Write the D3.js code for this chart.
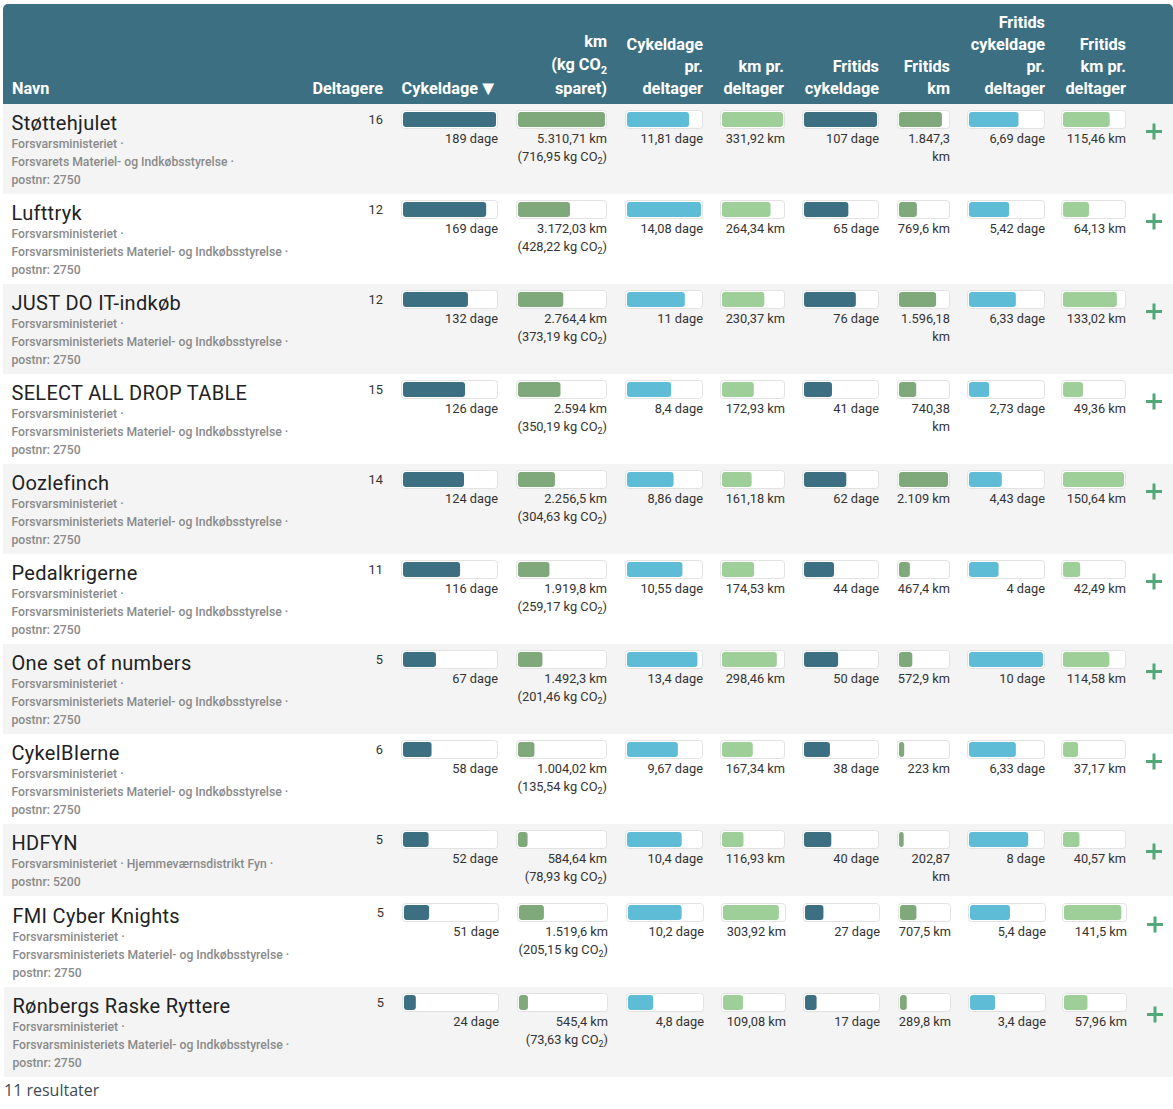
<!DOCTYPE html>
<html>
<head>
<meta charset="utf-8">
<script src="https://d3js.org/d3.v7.min.js"></script>
<style>
  html, body { margin: 0; background: #fff; }
  svg { display: block; font-family: Roboto, sans-serif; }
  .head { fill: #fff; font-weight: 700; font-size: 16.3px; text-anchor: end; }
  .name { fill: #222; font-size: 20px; font-weight: 400; letter-spacing: .3px; }
  .org { fill: #8a8a8a; font-size: 12.2px; font-weight: 500; }
  .val { fill: #333; font-size: 12.8px; text-anchor: end; }
  .footer { fill: #3d4a55; font: 16px "Open Sans", sans-serif; }
</style>
</head>
<body>
<svg id="chart" width="1173" height="1109"></svg>
<script>
const teams = ["Støttehjulet", "Lufttryk", "JUST DO IT-indkøb", "SELECT ALL DROP TABLE", "Oozlefinch", "Pedalkrigerne", "One set of numbers", "CykelBIerne", "HDFYN", "FMI Cyber Knights", "Rønbergs Raske Ryttere"];
const orgLines = [
    ["Forsvarsministeriet ·", "Forsvarets Materiel- og Indkøbsstyrelse ·", "postnr: 2750"],
    ...d3.range(7).map(() => ["Forsvarsministeriet ·", "Forsvarsministeriets Materiel- og Indkøbsstyrelse ·", "postnr: 2750"]),
    ["Forsvarsministeriet · Hjemmeværnsdistrikt Fyn ·", "postnr: 5200"],
    ...d3.range(2).map(() => ["Forsvarsministeriet ·", "Forsvarsministeriets Materiel- og Indkøbsstyrelse ·", "postnr: 2750"])
];
const participants = [16, 12, 12, 15, 14, 11, 5, 6, 5, 5, 5];
const days = [189, 169, 132, 126, 124, 116, 67, 58, 52, 51, 24];
const km = [5310.71, 3172.03, 2764.4, 2594, 2256.5, 1919.8, 1492.3, 1004.02, 584.64, 1519.6, 545.4];
const co2 = [716.95, 428.22, 373.19, 350.19, 304.63, 259.17, 201.46, 135.54, 78.93, 205.15, 73.63];
const daysPer = [11.81, 14.08, 11, 8.4, 8.86, 10.55, 13.4, 9.67, 10.4, 10.2, 4.8];
const kmPer = [331.92, 264.34, 230.37, 172.93, 161.18, 174.53, 298.46, 167.34, 116.93, 303.92, 109.08];
const leisureDays = [107, 65, 76, 41, 62, 44, 50, 38, 40, 27, 17];
const leisureKm = [1847.3, 769.6, 1596.18, 740.38, 2109, 467.4, 572.9, 223, 202.87, 707.5, 289.8];
const leisureDaysPer = [6.69, 5.42, 6.33, 2.73, 4.43, 4, 10, 6.33, 8, 5.4, 3.4];
const leisureKmPer = [115.46, 64.13, 133.02, 49.36, 150.64, 42.49, 114.58, 37.17, 40.57, 141.5, 57.96];

const DARK = "#3b6f81", GREEN = "#7fa87b", BLUE = "#5fbcd7", LIGHT = "#9ecf98";

const columns = [
    { values: days, unit: "dage", color: DARK, x0: 401, x1: 498 },
    { values: km, unit: "km", color: GREEN, x0: 516, x1: 607 },
    { values: daysPer, unit: "dage", color: BLUE, x0: 625, x1: 703 },
    { values: kmPer, unit: "km", color: LIGHT, x0: 720, x1: 785 },
    { values: leisureDays, unit: "dage", color: DARK, x0: 802, x1: 879 },
    { values: leisureKm, unit: "km", color: GREEN, x0: 897, x1: 950, wrap: true },
    { values: leisureDaysPer, unit: "dage", color: BLUE, x0: 967, x1: 1045 },
    { values: leisureKmPer, unit: "km", color: LIGHT, x0: 1061, x1: 1126 }
];

// right edge and lines of each header cell, last line sits on the same baseline
const headers = [
    { x: 383, lines: ["Deltagere"] },
    { x: 478, lines: ["Cykeldage"] },
    { x: 703, lines: ["Cykeldage", "pr.", "deltager"] },
    { x: 784, lines: ["km pr.", "deltager"] },
    { x: 879, lines: ["Fritids", "cykeldage"] },
    { x: 950, lines: ["Fritids", "km"] },
    { x: 1045, lines: ["Fritids", "cykeldage", "pr.", "deltager"] },
    { x: 1126, lines: ["Fritids", "km pr.", "deltager"] }
];

const da = d3.formatLocale({ decimal: ",", thousands: ".", grouping: [3], currency: ["", " kr"] });
const fmt = da.format(",.2~f");

const svg = d3.select("#chart");

// header band
svg.append("rect").attr("x", 3).attr("y", 4).attr("width", 1170).attr("height", 100).attr("rx", 5).attr("fill", DARK);
svg.append("rect").attr("x", 3).attr("y", 50).attr("width", 1170).attr("height", 54).attr("fill", DARK);

svg.append("text").attr("class", "head").attr("x", 12).attr("y", 94).style("text-anchor", "start").text("Navn");

headers.forEach(h => {
    h.lines.forEach((line, i) => {
        svg.append("text").attr("class", "head")
            .attr("x", h.x)
            .attr("y", 94 - (h.lines.length - 1 - i) * 22)
            .text(line);
    });
});

// sort arrow
svg.append("text").attr("class", "head").attr("x", 498).attr("y", 95).style("font-size", "20px").text("▼");

// km header has the subscript, and slightly different line spacing
svg.append("text").attr("class", "head").attr("x", 607).attr("y", 47).text("km");
const co2Head = svg.append("text").attr("class", "head").attr("x", 607).attr("y", 70);
co2Head.append("tspan").text("(kg CO");
co2Head.append("tspan").attr("dy", 4).style("font-size", "11px").text("2");
svg.append("text").attr("class", "head").attr("x", 607).attr("y", 94).text("sparet)");

// rows
let rowTop = 104;
const rowData = teams.map((name, i) => {
    const lines = orgLines[i];
    const h = lines.length === 3 ? 90 : 72;
    const row = { i, name, lines, top: rowTop, h, dx: i >= 9 ? 1 : 0 };
    rowTop += h;
    if (i === 8) rowTop += 1;
    return row;
});

const rows = svg.selectAll("g.row").data(rowData).join("g")
    .attr("class", "row")
    .attr("transform", d => `translate(${d.dx},${d.top})`);

rows.filter(d => d.i % 2 === 0).append("rect")
    .attr("x", 3).attr("y", 0).attr("width", 1170).attr("height", d => d.h)
    .attr("fill", "#f4f4f4");

rows.append("text").attr("class", "name").attr("x", 11.5).attr("y", 26).text(d => d.name);

rows.each(function (d) {
    d3.select(this).selectAll("text.org").data(d.lines).join("text")
        .attr("class", "org").attr("x", 11.5)
        .attr("y", (l, i) => 44 + i * 18)
        .text(l => l);
});

rows.append("text").attr("class", "val").attr("x", 383).attr("y", 20).text(d => participants[d.i]);

// plus icon
rows.append("path")
    .attr("d", "M1146,27.5H1162M1154,19.5V35.5")
    .attr("stroke", "#52a878").attr("stroke-width", 3).attr("fill", "none");

// bars and value labels
columns.forEach((col, c) => {
    const x = d3.scaleLinear().domain([0, d3.max(col.values)]).range([0, col.x1 - col.x0 - 4]);
    const cells = rows.append("g").attr("class", "cell-" + c);

    cells.append("rect")
        .attr("x", col.x0 + .5).attr("y", 6.5)
        .attr("width", col.x1 - col.x0 - 1).attr("height", 18)
        .attr("rx", 3).attr("fill", "#fff").attr("stroke", "#e2e2e2");

    cells.append("rect")
        .attr("x", col.x0 + 2).attr("y", 8)
        .attr("width", d => x(col.values[d.i])).attr("height", 15)
        .attr("rx", 3).attr("fill", col.color);

    cells.each(function (d) {
        const g = d3.select(this);
        const num = fmt(col.values[d.i]);
        const label = `${num} ${col.unit}`;
        if (col.wrap && label.length > 8) {
            g.append("text").attr("class", "val").attr("x", col.x1).attr("y", 39).text(num);
            g.append("text").attr("class", "val").attr("x", col.x1).attr("y", 57).text(col.unit);
        } else {
            g.append("text").attr("class", "val").attr("x", col.x1).attr("y", 39).text(label);
        }
        if (col.values === km) {
            const t = g.append("text").attr("class", "val").attr("x", col.x1).attr("y", 57);
            t.append("tspan").text(`(${fmt(co2[d.i])} kg CO`);
            t.append("tspan").attr("dy", 3).style("font-size", "9px").text("2");
            t.append("tspan").attr("dy", -3).text(")");
        }
    });
});

svg.append("text").attr("class", "footer").attr("x", 4).attr("y", 1096).text(teams.length + " resultater");
</script>
</body>
</html>
